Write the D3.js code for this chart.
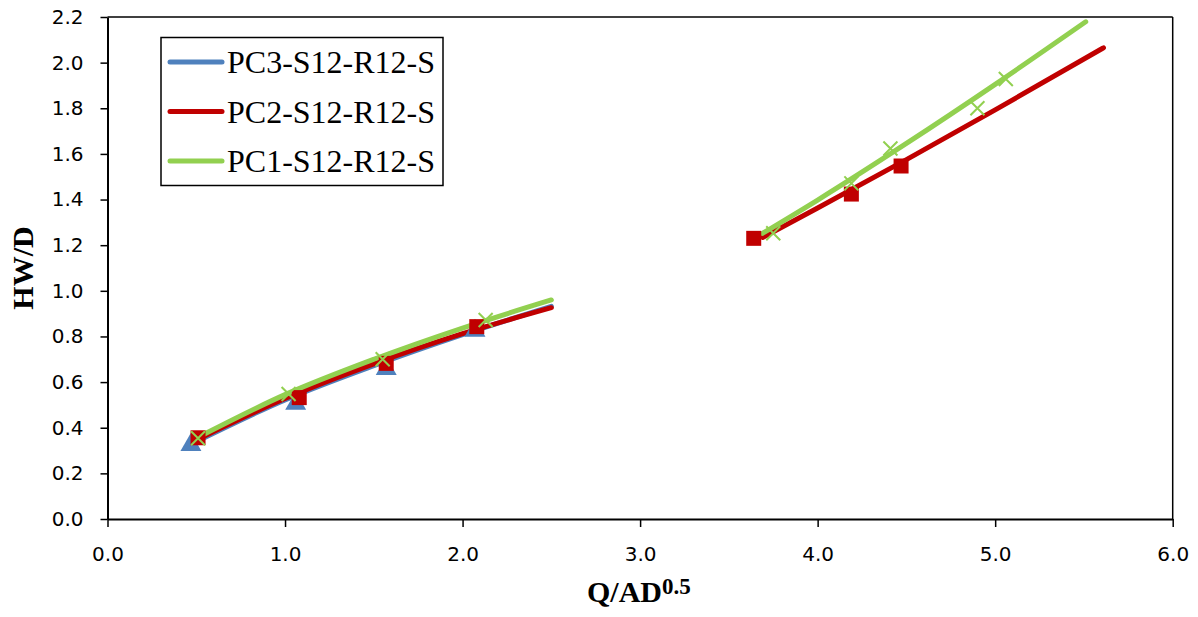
<!DOCTYPE html>
<html><head><meta charset="utf-8">
<script src="https://cdn.jsdelivr.net/npm/d3@7"></script>
<style>
html,body{margin:0;padding:0;background:#fff;}
svg{display:block;}
</style></head>
<body>
<svg id="chart" width="1198" height="617"></svg>
<script>
// ---- data ----
const seriesNames = ["PC3-S12-R12-S", "PC2-S12-R12-S", "PC1-S12-R12-S"];
const xTicks = [0, 1, 2, 3, 4, 5, 6];
const yTicks = [0, 0.2, 0.4, 0.6, 0.8, 1.0, 1.2, 1.4, 1.6, 1.8, 2.0, 2.2];

// markers
const pc3X = [0.47, 1.06, 1.57, 2.07];
const pc3Y = [0.325, 0.505, 0.658, 0.825];
const pc2X = [0.51, 1.08, 1.57, 2.08, 3.64, 4.19, 4.47];
const pc2Y = [0.356, 0.532, 0.682, 0.843, 1.230, 1.424, 1.547];
const pc1X = [0.51, 1.02, 1.55, 2.13, 3.75, 4.19, 4.41, 4.90, 5.06];
const pc1Y = [0.354, 0.548, 0.700, 0.872, 1.252, 1.471, 1.624, 1.800, 1.928];

// trend curves
const pc3TrendLowX = [0.47, 1.0, 1.5, 2.0, 2.5];
const pc3TrendLowY = [0.328, 0.522, 0.672, 0.808, 0.932];
const pc2TrendLowX = [0.51, 1.0, 1.5, 2.0, 2.5];
const pc2TrendLowY = [0.350, 0.528, 0.680, 0.812, 0.926];
const pc1TrendLowX = [0.51, 1.0, 1.5, 2.0, 2.5];
const pc1TrendLowY = [0.358, 0.545, 0.700, 0.837, 0.960];
const pc2TrendHighX = [3.69, 4.0, 4.5, 5.0, 5.61];
const pc2TrendHighY = [1.234, 1.363, 1.575, 1.793, 2.065];
const pc1TrendHighX = [3.69, 4.0, 4.5, 5.0, 5.51];
const pc1TrendHighY = [1.252, 1.398, 1.646, 1.905, 2.179];

// ---- drawing ----
const colors = {pc3: "#4F81BD", pc2: "#C00000", pc1: "#92D050"};
const svg = d3.select("#chart");
const L = 107.5, R = 1172.7, T = 17, B = 519;
const x = d3.scaleLinear().domain([0, 6]).range([L, R]);
const y = d3.scaleLinear().domain([0, 2.2]).range([B, T]);
const zip = (xs, ys) => xs.map((v, i) => [v, ys[i]]);

// frame top/right
svg.append("line").attr("x1", L).attr("x2", R).attr("y1", T).attr("y2", T)
  .attr("stroke", "#000").attr("stroke-width", 1.5);
svg.append("line").attr("x1", R).attr("x2", R).attr("y1", T).attr("y2", B)
  .attr("stroke", "#000").attr("stroke-width", 1.5);

const tickFont = "'DejaVu Sans', sans-serif";
const yAxis = svg.append("g").attr("transform", `translate(${L},0)`)
  .call(d3.axisLeft(y).tickValues(yTicks).tickFormat(d3.format(".1f")).tickSizeInner(7).tickSizeOuter(0).tickPadding(17));
const xAxis = svg.append("g").attr("transform", `translate(0,${B})`)
  .call(d3.axisBottom(x).tickValues(xTicks).tickFormat(d3.format(".1f")).tickSizeInner(8).tickSizeOuter(0).tickPadding(20));
[yAxis, xAxis].forEach(g => {
  g.select(".domain").attr("stroke", "#000").attr("stroke-width", 2);
  g.selectAll(".tick line").attr("stroke", "#000").attr("stroke-width", 1.5);
  g.selectAll(".tick text").attr("fill", "#000").style("font-family", tickFont).style("font-size", "20px");
});

// trend lines
const line = d3.line().x(d => x(d[0])).y(d => y(d[1])).curve(d3.curveMonotoneX);
const trends = [
  {c: colors.pc3, d: zip(pc3TrendLowX, pc3TrendLowY)},
  {c: colors.pc2, d: zip(pc2TrendLowX, pc2TrendLowY)},
  {c: colors.pc2, d: zip(pc2TrendHighX, pc2TrendHighY)},
  {c: colors.pc1, d: zip(pc1TrendLowX, pc1TrendLowY)},
  {c: colors.pc1, d: zip(pc1TrendHighX, pc1TrendHighY)}
];
svg.append("g").selectAll("path").data(trends).join("path")
  .attr("d", t => line(t.d)).attr("fill", "none").attr("stroke", t => t.c)
  .attr("stroke-width", 5).attr("stroke-linecap", "round");

// markers
svg.append("g").selectAll("path").data(zip(pc3X, pc3Y)).join("path")
  .attr("transform", d => `translate(${x(d[0])},${y(d[1])})`)
  .attr("d", d3.symbol(d3.symbolTriangle, 190)).attr("fill", colors.pc3);
svg.append("g").selectAll("path").data(zip(pc2X, pc2Y)).join("path")
  .attr("transform", d => `translate(${x(d[0])},${y(d[1])})`)
  .attr("d", d3.symbol(d3.symbolSquare, 225)).attr("fill", colors.pc2);
svg.append("g").selectAll("path").data(zip(pc1X, pc1Y)).join("path")
  .attr("transform", d => `translate(${x(d[0])},${y(d[1])})`)
  .attr("d", "M-7,-7L7,7M-7,7L7,-7").attr("fill", "none")
  .attr("stroke", colors.pc1).attr("stroke-width", 2);

// legend
const lg = svg.append("g");
lg.append("rect").attr("x", 161).attr("y", 37.5).attr("width", 282).attr("height", 148)
  .attr("fill", "#fff").attr("stroke", "#000").attr("stroke-width", 1.5);
const legColors = [colors.pc3, colors.pc2, colors.pc1];
seriesNames.forEach((n, i) => {
  const cy = 62 + i * 49.5;
  lg.append("line").attr("x1", 170).attr("x2", 222).attr("y1", cy).attr("y2", cy)
    .attr("stroke", legColors[i]).attr("stroke-width", 5).attr("stroke-linecap", "round");
  lg.append("text").attr("x", 227).attr("y", cy + 11).text(n)
    .style("font-family", "'Liberation Serif', 'Times New Roman', serif").style("font-size", "32px").attr("fill", "#000");
});

// axis titles
const yt = svg.append("text").attr("transform", `translate(33,${(T + B) / 2}) rotate(-90)`)
  .attr("text-anchor", "middle")
  .style("font-family", "'Liberation Serif', 'Times New Roman', serif").style("font-size", "30px").style("font-weight", "bold")
  .text("HW/D");
const xt = svg.append("text").attr("x", 587).attr("y", 602)
  .style("font-family", "'Liberation Serif', 'Times New Roman', serif").style("font-size", "30px").style("font-weight", "bold");
xt.append("tspan").text("Q/AD");
xt.append("tspan").attr("dy", -8).style("font-size", "23px").text("0.5");
</script>
</body></html>
